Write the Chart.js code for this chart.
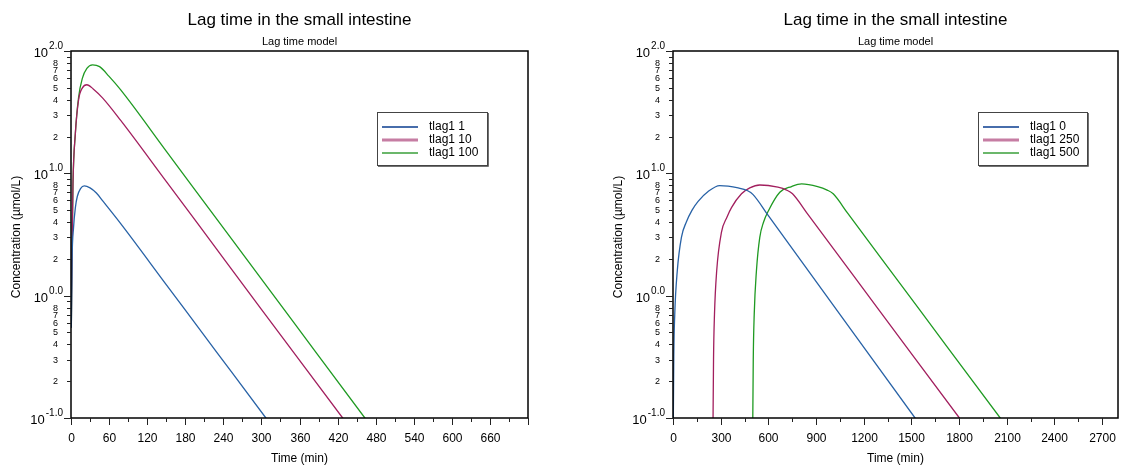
<!DOCTYPE html>
<html>
<head>
<meta charset="utf-8">
<script src="https://cdn.jsdelivr.net/npm/chart.js@4.4.0/dist/chart.umd.min.js"></script>
<style>
    html, body { margin: 0; padding: 0; background: #fff; }
    #wrap { position: relative; width: 1123px; height: 466px; }
    canvas { position: absolute; top: 0; }
</style>
</head>
<body>
<div id="wrap">
    <canvas id="leftChart" width="561" height="466" style="left:0"></canvas>
    <canvas id="rightChart" width="562" height="466" style="left:561px"></canvas>
</div>
<script>
// ---- data ----
const chartTitle = "Lag time in the small intestine";
const chartSubtitle = "Lag time model";
const yTitle = "Concentration (\u00b5mol/L)";
const xTitle = "Time (min)";

// left panel
const leftLabels = ["tlag1 1", "tlag1 10", "tlag1 100"];
const leftTime1 = [0.5, 1.6, 4, 7, 10, 15, 21, 30, 40, 50, 78, 150, 230, 307, 320];
const leftConc1 = [0.55, 1.9, 3.6, 5.3, 6.5, 7.5, 7.9, 7.6, 6.9, 5.95, 3.9, 1.233, 0.343, 0.1, 0.081];
const leftTime2 = [0.5, 1.6, 3.1, 6.8, 12, 18, 25, 35, 50, 78, 150, 200, 300, 428, 440];
const leftConc2 = [0.55, 2.3, 8.2, 21, 40, 50, 53, 49, 41.2, 27.2, 8.59, 3.855, 0.774, 0.1, 0.0825];
const leftTime3 = [0.5, 1.6, 3.1, 6.8, 12, 18, 25, 34, 45, 60, 78, 150, 250, 350, 463, 480];
const leftConc3 = [0.55, 2.3, 8.2, 21, 42, 60, 72, 77, 74.5, 62, 48.3, 15.2, 3.05, 0.613, 0.1, 0.076];

// right panel
const rightLabels = ["tlag1 0", "tlag1 250", "tlag1 500"];
const rightTime1 = [1, 5, 11, 27, 53, 84, 120, 158, 221, 294, 410, 470, 504, 600, 1000, 1523, 1560];
const rightConc1 = [0.065, 0.32, 0.7, 1.6, 3.0, 4.0, 5.0, 5.9, 7.1, 7.94, 7.6, 7.2, 6.7, 4.51, 0.865, 0.1, 0.086];
const rightTime2 = [251, 255, 261, 275, 305, 340, 368, 431, 483, 546, 660, 715, 752, 850, 1300, 1802, 1840];
const rightConc2 = [0.065, 0.3, 0.7, 1.6, 3.3, 4.4, 5.25, 6.8, 7.6, 8.03, 7.7, 7.3, 6.8, 4.59, 0.752, 0.1, 0.086];
const rightTime3 = [501, 505, 511, 525, 546, 570, 599, 672, 746, 809, 910, 970, 1008, 1100, 1550, 2059, 2100];
const rightConc3 = [0.065, 0.3, 0.7, 1.6, 3.0, 4.0, 4.9, 7.0, 7.8, 8.2, 7.8, 7.3, 6.8, 4.70, 0.772, 0.1, 0.085];

// ticks
const leftXMajor = [0, 60, 120, 180, 240, 300, 360, 420, 480, 540, 600, 660, 720];
const leftXLabels = ["0", "60", "120", "180", "240", "300", "360", "420", "480", "540", "600", "660", ""];
const leftXMinor = [30, 90, 150, 210, 270, 330, 390, 450, 510, 570, 630, 690];
const rightXMajor = [0, 300, 600, 900, 1200, 1500, 1800, 2100, 2400, 2700];
const rightXLabels = ["0", "300", "600", "900", "1200", "1500", "1800", "2100", "2400", "2700"];
const rightXMinor = [150, 450, 750, 1050, 1350, 1650, 1950, 2250, 2550];

const yDecades = [0.1, 1, 10, 100];
const yDecadeExp = ["-1.0", "0.0", "1.0", "2.0"];
const yMinorFactors = [2, 3, 4, 5, 6, 7, 8, 9];
const yMinorLabels = ["2", "3", "4", "5", "6", "7", "8", ""];

const lineColors = ["#2862a6", "#a21f5e", "#1f9a22"];
const legendColors = ["#0a3d8f", "#c67da3", "#3a9f3a"];
const legendWidths = [1.6, 3, 1.6];

const FONT = "'Liberation Sans', Arial, sans-serif";

function buildDatasets(labels, times, concs) {
    return labels.map((label, i) => ({
        label: label,
        data: times[i].map((t, j) => ({ x: t, y: concs[i][j] })),
        borderColor: lineColors[i],
        borderWidth: 1.3,
        pointRadius: 0,
        fill: false,
        cubicInterpolationMode: "monotone",
        clip: 0
    }));
}

// draws frame, ticks, tick labels, titles and the legend box
function makeDecorPlugin(cfg) {
    return {
        id: "decor",
        afterDraw(chart) {
            const ctx = chart.ctx;
            const a = chart.chartArea;
            const xs = chart.scales.x;
            const ys = chart.scales.y;
            const midX = (a.left + a.right) / 2;
            ctx.save();

            // frame
            ctx.strokeStyle = "#000";
            ctx.lineWidth = 1.5;
            ctx.strokeRect(a.left, a.top, a.right - a.left, a.bottom - a.top);

            // y ticks
            ctx.lineWidth = 1;
            ctx.strokeStyle = "#222";
            ctx.fillStyle = "#000";
            yDecades.forEach((d, i) => {
                const py = Math.round(ys.getPixelForValue(d)) + 0.5;
                ctx.beginPath();
                ctx.moveTo(a.left - 7, py);
                ctx.lineTo(a.left, py);
                ctx.stroke();

                ctx.textBaseline = "middle";
                ctx.textAlign = "right";
                ctx.font = "10px " + FONT;
                const expW = ctx.measureText(yDecadeExp[i]).width;
                ctx.fillText(yDecadeExp[i], a.left - 8, py - 5);
                ctx.font = "13px " + FONT;
                ctx.fillText("10", a.left - 9 - expW, py + 2);

                if (i < yDecades.length - 1) {
                    yMinorFactors.forEach((f, j) => {
                        const my = Math.round(ys.getPixelForValue(d * f)) + 0.5;
                        ctx.beginPath();
                        ctx.moveTo(a.left - 4, my);
                        ctx.lineTo(a.left, my);
                        ctx.stroke();
                        if (yMinorLabels[j]) {
                            ctx.font = "9px " + FONT;
                            ctx.textAlign = "center";
                            ctx.fillText(yMinorLabels[j], a.left - 15.5, my + 0.5);
                        }
                    });
                }
            });

            // x ticks
            cfg.xMajor.forEach((v, i) => {
                const px = Math.round(xs.getPixelForValue(v)) + 0.5;
                ctx.beginPath();
                ctx.moveTo(px, a.bottom);
                ctx.lineTo(px, a.bottom + 7);
                ctx.stroke();
                ctx.font = "12px " + FONT;
                ctx.textAlign = "center";
                ctx.textBaseline = "middle";
                ctx.fillText(cfg.xLabels[i], px, a.bottom + 21);
            });
            cfg.xMinor.forEach(v => {
                const px = Math.round(xs.getPixelForValue(v)) + 0.5;
                ctx.beginPath();
                ctx.moveTo(px, a.bottom);
                ctx.lineTo(px, a.bottom + 4);
                ctx.stroke();
            });

            // titles
            ctx.textAlign = "center";
            ctx.textBaseline = "middle";
            ctx.font = "17px " + FONT;
            ctx.fillText(chartTitle, midX, 20);
            ctx.font = "11px " + FONT;
            ctx.fillText(chartSubtitle, midX, 42);
            ctx.font = "12px " + FONT;
            ctx.fillText(xTitle, midX, a.bottom + 41);
            ctx.save();
            ctx.translate(a.left - 54, 237);
            ctx.rotate(-Math.PI / 2);
            ctx.fillText(yTitle, 0, 0);
            ctx.restore();

            // legend
            const L = cfg.legend;
            ctx.fillStyle = "#fff";
            ctx.fillRect(L.x, L.y, L.w, L.h);
            ctx.strokeStyle = "#444";
            ctx.lineWidth = 1;
            ctx.strokeRect(L.x + 0.5, L.y + 0.5, L.w, L.h);
            ctx.beginPath();
            ctx.lineWidth = 1.5;
            ctx.moveTo(L.x + L.w + 1, L.y + 1);
            ctx.lineTo(L.x + L.w + 1, L.y + L.h + 1);
            ctx.lineTo(L.x + 1, L.y + L.h + 1);
            ctx.stroke();
            chart.data.datasets.forEach((ds, i) => {
                const ry = L.y + 15 + i * 13;
                ctx.strokeStyle = legendColors[i];
                ctx.lineWidth = legendWidths[i];
                ctx.beginPath();
                ctx.moveTo(L.x + 5, ry);
                ctx.lineTo(L.x + 41, ry);
                ctx.stroke();
                ctx.fillStyle = "#000";
                ctx.font = "12px " + FONT;
                ctx.textAlign = "left";
                ctx.fillText(ds.label, L.x + 52, ry);
            });

            ctx.restore();
        }
    };
}

function makeChart(id, datasets, xMax, padding, cfg) {
    const ctx = document.getElementById(id).getContext("2d");
    return new Chart(ctx, {
        type: "line",
        data: { datasets: datasets },
        options: {
            responsive: false,
            animation: false,
            devicePixelRatio: 1,
            layout: { padding: padding },
            plugins: {
                legend: { display: false },
                title: { display: false },
                tooltip: { enabled: false }
            },
            scales: {
                x: { type: "linear", min: 0, max: xMax, display: false },
                y: { type: "logarithmic", min: 0.1, max: 100, display: false }
            }
        },
        plugins: [makeDecorPlugin(cfg)]
    });
}

makeChart(
    "leftChart",
    buildDatasets(leftLabels, [leftTime1, leftTime2, leftTime3], [leftConc1, leftConc2, leftConc3]),
    720,
    { left: 71, right: 33, top: 51, bottom: 48 },
    { xMajor: leftXMajor, xLabels: leftXLabels, xMinor: leftXMinor,
      legend: { x: 377, y: 112, w: 110, h: 53 } }
);

makeChart(
    "rightChart",
    buildDatasets(rightLabels, [rightTime1, rightTime2, rightTime3], [rightConc1, rightConc2, rightConc3]),
    2800,
    { left: 112, right: 5, top: 51, bottom: 48 },
    { xMajor: rightXMajor, xLabels: rightXLabels, xMinor: rightXMinor,
      legend: { x: 417, y: 112, w: 109, h: 53 } }
);
</script>
</body>
</html>
